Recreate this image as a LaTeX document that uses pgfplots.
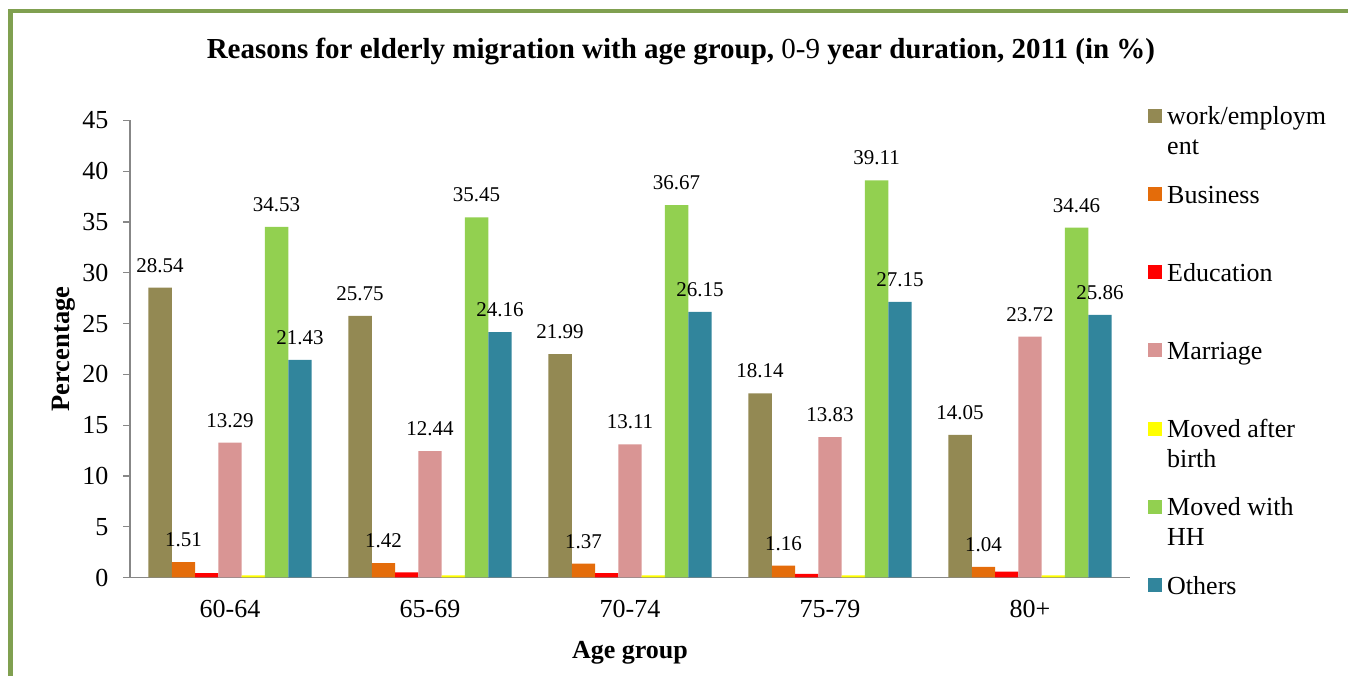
\documentclass[border=0pt]{standalone}
\usepackage{pgfplots}
\pgfplotsset{compat=1.18}
\usepackage{fontspec}
\setmainfont{Liberation Serif}
\definecolor{cWork}{HTML}{938953}
\definecolor{cBus}{HTML}{E46C0A}
\definecolor{cEdu}{HTML}{FF0000}
\definecolor{cMar}{HTML}{D99594}
\definecolor{cMab}{HTML}{FFFF00}
\definecolor{cHH}{HTML}{92D050}
\definecolor{cOth}{HTML}{31859C}
\definecolor{frameGreen}{HTML}{80A050}
\definecolor{axisgray}{HTML}{878787}
\pgfplotsset{
  sqlegend/.style={legend image code/.code={\fill[##1,draw=none] (0pt,-19pt) rectangle (14pt,-5pt);}},
  lbl/.style={nodes near coords={\pgfmathprintnumber[fixed,precision=2,fixed zerofill]{\pgfplotspointmeta}}},
}
\begin{document}
\begin{tikzpicture}
\path[use as bounding box] (0,0) rectangle (1348pt,676pt);
\draw[line width=4.5pt, frameGreen] (10.3pt,0pt) -- (10.3pt,665pt) -- (1348pt,665pt);
\begin{axis}[
  at={(130pt,98.5pt)}, anchor=south west,
  scale only axis, width=1000pt, height=457pt,
  ymin=0, ymax=45, ytick={0,5,...,45},
  xmin=-0.5, xmax=4.5, xtick={0,1,2,3,4},
  xticklabels={60-64,65-69,70-74,75-79,80+},
  axis lines*=left,
  axis line style={draw=axisgray, line width=1.5pt},
  tick align=outside, major tick length=7pt,
  ytick style={draw=axisgray, line width=1.2pt},
  xtick style={draw=none},
  /pgf/number format/assume math mode=true,
  ticklabel style={font=\fontsize{26}{30}\selectfont, text=black},
  yticklabel style={xshift=-11pt},
  xticklabel style={yshift=-12pt},
  ybar=0pt, bar width=23.3pt,
  clip=false,
  every node near coord/.append style={anchor=south, inner sep=0pt, yshift=15pt, font=\fontsize{21}{25}\selectfont, text=black},
  title={Reasons for elderly migration with age group, {\mdseries 0-9} year duration, 2011 (in \%)},
  title style={at={(axis description cs:0.551,1.156)}, anchor=center, yshift=-8pt, font=\bfseries\fontsize{29}{34}\selectfont},
  xlabel={Age group},
  xlabel style={at={(axis description cs:0.5,-0.165)}, anchor=center, font=\bfseries\fontsize{26}{30}\selectfont},
  ylabel={Percentage},
  ylabel style={at={(axis description cs:-0.066,0.5)}, anchor=center, font=\bfseries\fontsize{26.5}{30}\selectfont},
  legend style={at={(axis description cs:1.018,1.037)}, anchor=north west, draw=none, fill=none, inner sep=0pt,
    row sep=18pt, column sep=5pt, cells={anchor=north west},
    nodes={inner sep=0pt, text depth=, font=\fontsize{26}{30}\selectfont}},
]
\addplot[fill=cWork, draw=none, sqlegend, lbl] coordinates {(0,28.54) (1,25.75) (2,21.99) (3,18.14) (4,14.05)};
\addlegendentry{\parbox[t][60pt][t]{175pt}{\strut work/employm\\ent\strut}}
\addplot[fill=cBus, draw=none, sqlegend, lbl] coordinates {(0,1.51) (1,1.42) (2,1.37) (3,1.16) (4,1.04)};
\addlegendentry{\parbox[t][60pt][t]{175pt}{\strut Business\strut}}
\addplot[fill=cEdu, draw=none, sqlegend] coordinates {(0,0.42) (1,0.51) (2,0.42) (3,0.35) (4,0.57)};
\addlegendentry{\parbox[t][60pt][t]{175pt}{\strut Education\strut}}
\addplot[fill=cMar, draw=none, sqlegend, lbl] coordinates {(0,13.29) (1,12.44) (2,13.11) (3,13.83) (4,23.72)};
\addlegendentry{\parbox[t][60pt][t]{175pt}{\strut Marriage\strut}}
\addplot[fill=cMab, draw=none, sqlegend] coordinates {(0,0.2) (1,0.2) (2,0.2) (3,0.2) (4,0.2)};
\addlegendentry{\parbox[t][60pt][t]{175pt}{\strut Moved after\\birth\strut}}
\addplot[fill=cHH, draw=none, sqlegend, lbl] coordinates {(0,34.53) (1,35.45) (2,36.67) (3,39.11) (4,34.46)};
\addlegendentry{\parbox[t][60pt][t]{175pt}{\strut Moved with\\HH\strut}}
\addplot[fill=cOth, draw=none, sqlegend, lbl] coordinates {(0,21.43) (1,24.16) (2,26.15) (3,27.15) (4,25.86)};
\addlegendentry{\parbox[t][60pt][t]{175pt}{\strut Others\strut}}
\end{axis}
\end{tikzpicture}
\end{document}
